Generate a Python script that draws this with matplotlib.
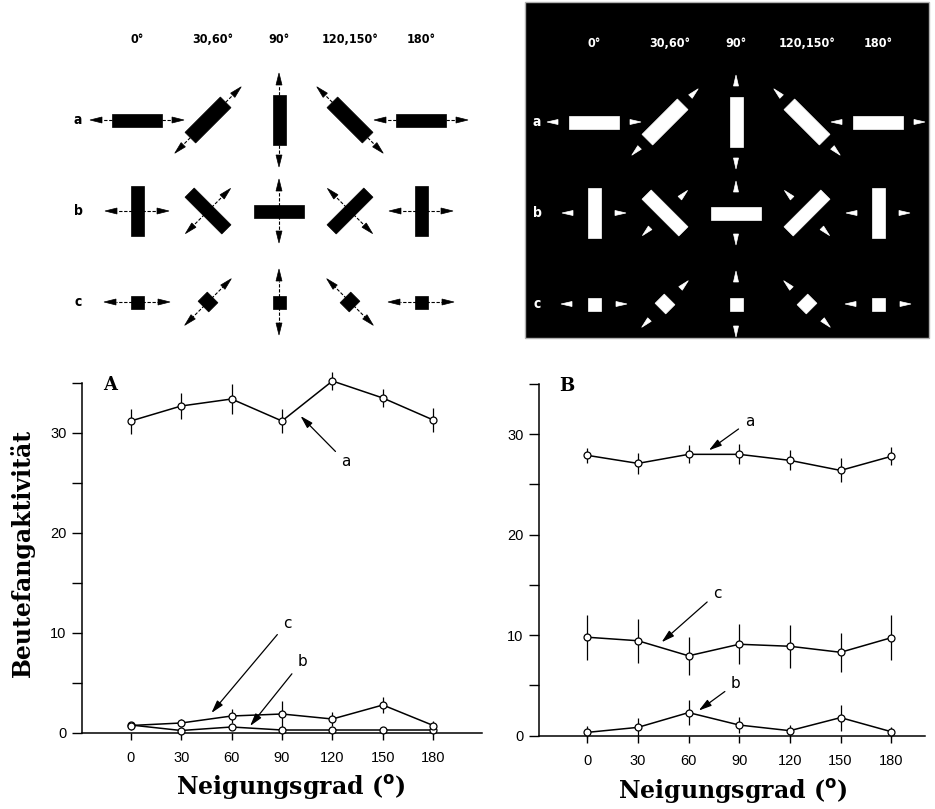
import numpy as np
import matplotlib.pyplot as plt
from matplotlib.patches import Polygon, Rectangle

W, H = 935, 809

# --- data -----------------------------------------------------------------
angles = [0, 30, 60, 90, 120, 150, 180]

# A: Reize schwarz auf weiss
a_A = [31.2, 32.7, 33.4, 31.2, 35.2, 33.5, 31.3]
a_A_err = [1.25, 1.3, 1.5, 1.2, 0.9, 0.9, 1.2]
b_A = [0.8, 0.25, 0.6, 0.3, 0.3, 0.3, 0.3]
b_A_err = [0.3, 0.2, 0.3, 0.2, 0.2, 0.2, 0.2]
c_A = [0.75, 1.0, 1.7, 1.9, 1.4, 2.8, 0.75]
c_A_err = [0.4, 0.4, 0.7, 1.3, 0.7, 0.8, 0.5]

# B: Reize weiss auf schwarz
a_B = [27.9, 27.1, 28.0, 28.0, 27.4, 26.4, 27.8]
a_B_err = [0.75, 1.05, 0.9, 1.0, 1.0, 1.2, 0.9]
b_B = [0.33, 0.83, 2.3, 1.06, 0.5, 1.8, 0.4]
b_B_err = [0.6, 0.9, 1.25, 0.8, 0.6, 1.3, 0.5]
c_B = [9.8, 9.45, 7.95, 9.1, 8.9, 8.3, 9.75]
c_B_err = [2.25, 2.2, 1.9, 2.0, 2.15, 1.95, 2.25]

# annotation letters: (label, text position, arrow target) in data units
notes_A = [("a", (128, 27.1), (101, 31.7)),
           ("c", (93, 11.0), (48, 2.0)),
           ("b", (102, 7.2), (71, 0.7))]
notes_B = [("a", (96, 31.3), (72, 28.4)),
           ("c", (77, 14.2), (44, 9.3)),
           ("b", (88, 5.2), (66, 2.5))]

# stimulus diagram
col_labels = ["0°", "30,60°", "90°", "120,150°", "180°"]
col_angles = [0, 45, 90, 135, 180]
row_labels = ["a", "b", "c"]

fig = plt.figure(figsize=(W / 100, H / 100), dpi=100)


def box(l, t, r, b):
    return [l / W, 1 - b / H, (r - l) / W, (b - t) / H]


# --- top: stimulus schemes (pixel coordinates) ---------------------------
axs = fig.add_axes([0, 0, 1, 1], zorder=-1)
axs.set_xlim(0, W)
axs.set_ylim(H, 0)
axs.axis("off")
axs.add_patch(Rectangle((525, 2), 404, 336, facecolor="black",
                        edgecolor="#b0b0b0", lw=1))


def head(ax, tip, u, length, width, color):
    base = tip - length * u
    n = np.array([-u[1], u[0]])
    pts = [tip, base + width / 2 * n, base - width / 2 * n]
    ax.add_patch(Polygon(pts, closed=True, facecolor=color, edgecolor=color,
                         lw=0.5, zorder=4))


def scheme(ax, x0, y0, fg, shaft, hy, rx):
    dx, dy = 71, 91
    for j, lab in enumerate(col_labels):
        ax.text(x0 + j * dx + (5 if j == 1 else 0), hy, lab, color=fg,
                fontsize=9, fontweight="bold", fontstretch="condensed",
                ha="center", va="center")
    for i, lab in enumerate(row_labels):
        ax.text(rx, y0 + i * dy, lab, color=fg, fontsize=10,
                fontweight="bold", fontstretch="condensed",
                ha="center", va="center")
        for j, ang in enumerate(col_angles):
            c = np.array([x0 + j * dx, y0 + i * dy], float)
            t = np.deg2rad(ang)
            u = np.array([np.cos(t), -np.sin(t)])
            n = np.array([-u[1], u[0]])
            if lab == "a":
                la, lb, reach = 50, 13, 47
            elif lab == "b":
                la, lb, reach = 13, 50, 32
            else:
                la, lb, reach = 13, 13, 33
            if ang % 90:
                lb += 2
            pts = [c + la / 2 * u + lb / 2 * n, c - la / 2 * u + lb / 2 * n,
                   c - la / 2 * u - lb / 2 * n, c + la / 2 * u - lb / 2 * n]
            ax.add_patch(Polygon(pts, closed=True, facecolor=fg,
                                 edgecolor=fg, lw=0.5, zorder=3))
            for s in (1, -1):
                tip = c + s * reach * u
                hl = 12 if shaft else 11
                head(ax, tip, s * u, hl, 6 if shaft else 5, fg)
                if shaft:
                    base = tip - s * hl * u
                    ax.plot([c[0], base[0]], [c[1], base[1]], color=fg,
                            lw=0.8, ls=(0, (3, 1.5)), zorder=2)


scheme(axs, 137, 120, "black", True, 39, 78)
scheme(axs, 594, 122, "white", False, 43, 537)


# --- bottom: curves --------------------------------------------------------
def panel(rect, xlim, series, notes, letter):
    ax = fig.add_axes(rect)
    ax.set_xlim(*xlim)
    ax.set_ylim(0, 35)
    for y, e in series:
        ax.errorbar(angles, y, yerr=e, color="black", lw=1.1, elinewidth=0.9,
                    capsize=0, marker="o", ms=5, mfc="white", mec="black",
                    mew=0.9, clip_on=False, zorder=3)
    for lab, txt, tgt in notes:
        ax.annotate(lab, xy=tgt, xytext=txt, ha="center", va="center",
                    fontsize=11, family="DejaVu Sans",
                    arrowprops=dict(arrowstyle="-|>,head_length=0.7,head_width=0.2",
                                    color="black", lw=0.9, shrinkA=3, shrinkB=0))
    ax.text(-12, 34.8, letter, fontsize=13, fontweight="bold",
            family="DejaVu Serif", ha="center", va="center")
    ax.spines[["top", "right"]].set_visible(False)
    ax.spines["left"].set_bounds(0, 35)
    for s in ("left", "bottom"):
        ax.spines[s].set_linewidth(1.1)
    ax.set_xticks(angles)
    ax.set_yticks([0, 10, 20, 30])
    ax.set_yticks([5, 15, 25, 35], minor=True)
    ax.tick_params(axis="y", which="both", length=7, width=1, pad=4,
                   labelsize=10.5)
    ax.tick_params(axis="x", length=5, width=1, pad=8, labelsize=10.5)
    for lb in ax.get_xticklabels() + ax.get_yticklabels():
        lb.set_family("Liberation Sans")
    return ax


panel(box(82, 383, 482, 733), (-29, 209),
      [(a_A, a_A_err), (b_A, b_A_err), (c_A, c_A_err)], notes_A, "A")
panel(box(539, 384, 925, 735.7), (-28.6, 200),
      [(a_B, a_B_err), (b_B, b_B_err), (c_B, c_B_err)], notes_B, "B")

lab_kw = dict(fontsize=17, fontweight="bold", family="DejaVu Serif",
              ha="center", va="center")
fig.text(22 / W, 1 - 553 / H, "Beutefangaktivität", rotation=90, **lab_kw)
fig.text(291 / W, 1 - 787 / H, "Neigungsgrad ($^{\\mathbf{o}}$)", **lab_kw)
fig.text(733 / W, 1 - 792 / H, "Neigungsgrad ($^{\\mathbf{o}}$)", **lab_kw)

fig.savefig("out.png", dpi=100)
